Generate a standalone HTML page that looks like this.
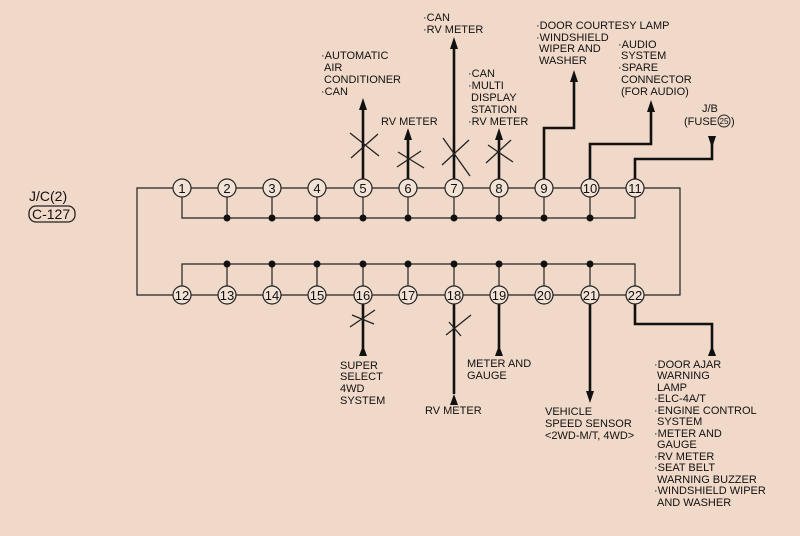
<!DOCTYPE html>
<html><head><meta charset="utf-8"><style>
html,body{margin:0;padding:0;background:#f1d9c9;}
svg{display:block}
text{font-family:"Liberation Sans",Arial,sans-serif;font-size:11px;fill:#111;}
.n{font-size:13px;text-anchor:middle;}
</style></head><body>
<svg width="800" height="536" viewBox="0 0 800 536" xmlns="http://www.w3.org/2000/svg">
<rect width="800" height="536" fill="#f1d9c9"/>
<g stroke="#222" stroke-width="1.2" fill="none">
<polyline points="182,188 137,188 137,295 182,295"/>
<polyline points="635,188 680,188 680,295 635,295"/>
<line x1="182" y1="188" x2="635" y2="188"/>
<line x1="182" y1="295" x2="635" y2="295"/>
<polyline points="182,188 182,218 635,218 635,188"/>
<polyline points="182,295 182,264 635,264 635,295"/>
<g>
<line x1="227" y1="188" x2="227" y2="218"/><line x1="272" y1="188" x2="272" y2="218"/><line x1="317" y1="188" x2="317" y2="218"/><line x1="363" y1="188" x2="363" y2="218"/><line x1="408" y1="188" x2="408" y2="218"/><line x1="454" y1="188" x2="454" y2="218"/><line x1="499" y1="188" x2="499" y2="218"/><line x1="544" y1="188" x2="544" y2="218"/><line x1="590" y1="188" x2="590" y2="218"/>
<line x1="227" y1="264" x2="227" y2="295"/><line x1="272" y1="264" x2="272" y2="295"/><line x1="317" y1="264" x2="317" y2="295"/><line x1="363" y1="264" x2="363" y2="295"/><line x1="408" y1="264" x2="408" y2="295"/><line x1="454" y1="264" x2="454" y2="295"/><line x1="499" y1="264" x2="499" y2="295"/><line x1="544" y1="264" x2="544" y2="295"/><line x1="590" y1="264" x2="590" y2="295"/>
</g>
</g>
<g fill="#111">
<circle cx="227" cy="218" r="3.5"/><circle cx="272" cy="218" r="3.5"/><circle cx="317" cy="218" r="3.5"/><circle cx="363" cy="218" r="3.5"/><circle cx="408" cy="218" r="3.5"/><circle cx="454" cy="218" r="3.5"/><circle cx="499" cy="218" r="3.5"/><circle cx="544" cy="218" r="3.5"/><circle cx="590" cy="218" r="3.5"/>
<circle cx="227" cy="264" r="3.5"/><circle cx="272" cy="264" r="3.5"/><circle cx="317" cy="264" r="3.5"/><circle cx="363" cy="264" r="3.5"/><circle cx="408" cy="264" r="3.5"/><circle cx="454" cy="264" r="3.5"/><circle cx="499" cy="264" r="3.5"/><circle cx="544" cy="264" r="3.5"/><circle cx="590" cy="264" r="3.5"/>
</g>
<g stroke="#111" stroke-width="2.6" fill="none">
<line x1="363" y1="108" x2="363" y2="179"/>
<line x1="408" y1="138" x2="408" y2="179"/>
<line x1="454" y1="47" x2="454" y2="179"/>
<line x1="499" y1="138" x2="499" y2="179"/>
<polyline points="544,179 544,128 574,128 574,80"/>
<polyline points="590,179 590,144 651,144 651,110"/>
<polyline points="635,179 635,159 712,159 712,138"/>
<line x1="363" y1="304" x2="363" y2="348"/>
<line x1="454" y1="304" x2="454" y2="394"/>
<line x1="499" y1="304" x2="499" y2="348"/>
<line x1="590" y1="304" x2="590" y2="392"/>
<polyline points="635,304 635,324 712,324 712,348"/>
</g>
<g fill="#111">
<polygon points="363,98 359,110 367,110"/>
<polygon points="408,128 404,140 412,140"/>
<polygon points="454,37 450,49 458,49"/>
<polygon points="499,128 495,140 503,140"/>
<polygon points="574,70 570,82 578,82"/>
<polygon points="651,100 647,112 655,112"/>
<polygon points="712,148 708,136 716,136"/>
<polygon points="363,345 359,356 367,356"/>
<polygon points="454,394 450,405 458,405"/>
<polygon points="499,345 495,356 503,356"/>
<polygon points="590,403 586,391 594,391"/>
<polygon points="712,345 708,356 716,356"/>
</g>
<g stroke="#222" stroke-width="1.3">
<line x1="350" y1="133" x2="379" y2="156"/><line x1="351" y1="158" x2="378" y2="134"/>
<line x1="398" y1="152" x2="424" y2="168"/><line x1="397" y1="167" x2="421" y2="151"/>
<line x1="443" y1="138" x2="470" y2="176"/><line x1="442" y1="165" x2="469" y2="140"/>
<line x1="488" y1="145" x2="513" y2="162"/><line x1="486" y1="163" x2="511" y2="140"/>
<line x1="350" y1="327" x2="375" y2="310"/><line x1="352" y1="315" x2="374" y2="324"/>
<line x1="446" y1="335" x2="471" y2="315"/><line x1="449" y1="322" x2="461" y2="336"/>
</g>
<g stroke="#222" stroke-width="1.2" fill="#f3e2d6">
<circle cx="182" cy="188" r="9"/><circle cx="227" cy="188" r="9"/><circle cx="272" cy="188" r="9"/><circle cx="317" cy="188" r="9"/><circle cx="363" cy="188" r="9"/><circle cx="408" cy="188" r="9"/><circle cx="454" cy="188" r="9"/><circle cx="499" cy="188" r="9"/><circle cx="544" cy="188" r="9"/><circle cx="590" cy="188" r="9"/><circle cx="635" cy="188" r="9"/>
<circle cx="182" cy="295" r="9"/><circle cx="227" cy="295" r="9"/><circle cx="272" cy="295" r="9"/><circle cx="317" cy="295" r="9"/><circle cx="363" cy="295" r="9"/><circle cx="408" cy="295" r="9"/><circle cx="454" cy="295" r="9"/><circle cx="499" cy="295" r="9"/><circle cx="544" cy="295" r="9"/><circle cx="590" cy="295" r="9"/><circle cx="635" cy="295" r="9"/>
</g>
<g>
<text class="n" x="182" y="193">1</text><text class="n" x="227" y="193">2</text><text class="n" x="272" y="193">3</text><text class="n" x="317" y="193">4</text><text class="n" x="363" y="193">5</text><text class="n" x="408" y="193">6</text><text class="n" x="454" y="193">7</text><text class="n" x="499" y="193">8</text><text class="n" x="544" y="193">9</text><text class="n" x="590" y="193">10</text><text class="n" x="635" y="193">11</text>
<text class="n" x="182" y="300">12</text><text class="n" x="227" y="300">13</text><text class="n" x="272" y="300">14</text><text class="n" x="317" y="300">15</text><text class="n" x="363" y="300">16</text><text class="n" x="408" y="300">17</text><text class="n" x="454" y="300">18</text><text class="n" x="499" y="300">19</text><text class="n" x="544" y="300">20</text><text class="n" x="590" y="300">21</text><text class="n" x="635" y="300">22</text>
</g>
<text x="29" y="201" style="font-size:14px">J/C(2)</text>
<rect x="29" y="206" width="46" height="16" rx="7" fill="none" stroke="#222" stroke-width="1.3"/>
<text x="32" y="219" style="font-size:14px">C-127</text>
<text x="321" y="59">·AUTOMATIC</text><text x="324" y="71">AIR</text><text x="324" y="83">CONDITIONER</text><text x="321" y="95">·CAN</text>
<text x="381" y="125">RV METER</text>
<text x="423" y="21">·CAN</text><text x="423" y="33">·RV METER</text>
<text x="468" y="77">·CAN</text><text x="468" y="89">·MULTI</text><text x="471" y="101">DISPLAY</text><text x="471" y="113">STATION</text><text x="468" y="125">·RV METER</text>
<text x="536" y="29">·DOOR COURTESY LAMP</text><text x="536" y="41">·WINDSHIELD</text><text x="539" y="52">WIPER AND</text><text x="539" y="64">WASHER</text>
<text x="618" y="48">·AUDIO</text><text x="621" y="59">SYSTEM</text><text x="618" y="71">·SPARE</text><text x="621" y="83">CONNECTOR</text><text x="621" y="95">(FOR AUDIO)</text>
<text x="702" y="112">J/B</text><text x="684" y="125">(FUSE</text>
<circle cx="724" cy="121" r="6" fill="none" stroke="#222" stroke-width="1"/><text x="724" y="124" style="font-size:8px" text-anchor="middle">25</text><text x="731" y="125">)</text>
<text x="340" y="369">SUPER</text><text x="340" y="380">SELECT</text><text x="340" y="392">4WD</text><text x="340" y="404">SYSTEM</text>
<text x="467" y="367">METER AND</text><text x="467" y="379">GAUGE</text>
<text x="425" y="414">RV METER</text>
<text x="545" y="415">VEHICLE</text><text x="545" y="427">SPEED SENSOR</text><text x="545" y="439">&lt;2WD-M/T, 4WD&gt;</text>
<text x="654" y="368">·DOOR AJAR</text><text x="657" y="379">WARNING</text><text x="657" y="391">LAMP</text><text x="654" y="402">·ELC-4A/T</text><text x="654" y="414">·ENGINE CONTROL</text><text x="657" y="425">SYSTEM</text><text x="654" y="437">·METER AND</text><text x="657" y="448">GAUGE</text><text x="654" y="460">·RV METER</text><text x="654" y="471">·SEAT BELT</text><text x="657" y="483">WARNING BUZZER</text><text x="654" y="494">·WINDSHIELD WIPER</text><text x="657" y="506">AND WASHER</text>
</svg>
</body></html>
